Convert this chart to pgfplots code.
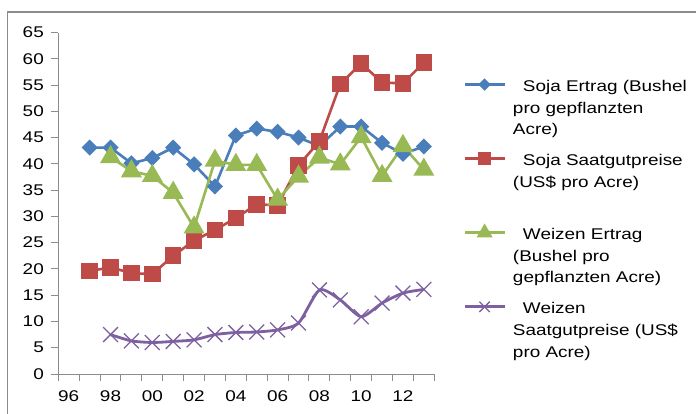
\documentclass[border=0pt]{standalone}
\usepackage{pgfplots}
\pgfplotsset{compat=1.18}
\usepackage{fontspec}
\setmainfont[FakeStretch=1.22]{Liberation Sans}
\definecolor{sojablue}{HTML}{4A7EBB}
\definecolor{sojared}{HTML}{BE4B48}
\definecolor{wgreen}{HTML}{98B954}
\definecolor{wpurple}{HTML}{7D60A0}
\definecolor{axisgray}{HTML}{8C8C8C}
\definecolor{framegray}{HTML}{8C8C8C}
\begin{document}
\begin{tikzpicture}
\useasboundingbox (0pt,0pt) rectangle (696pt,413pt);
\fill[white] (0pt,0pt) rectangle (696pt,413pt);
\draw[color=framegray, line width=1.5pt] (7.5pt,-5pt) -- (7.5pt,401pt) -- (705pt,401pt);
\begin{axis}[
  scale only axis, width=376pt, height=341.5pt,
  at={(58.3pt,39pt)}, anchor=south west,
  xmin=1995.5, xmax=2013.5, ymin=0, ymax=65,
  axis x line*=bottom, axis y line*=left,
  axis line style={draw=axisgray, line width=1pt, -},
  xtick={1995.5,1996.5,...,2013.5},
  xticklabels={96,,98,,00,,02,,04,,06,,08,,10,,12,,},
  xticklabel style={xshift=10.44pt, yshift=-6pt},
  yticklabel style={xshift=-4pt},
  ytick={0,5,...,65},
  tick align=outside,
  major tick length=7pt,
  tick style={draw=axisgray, line width=1pt},
  ticklabel style={font=\fontsize{15.5}{18}\selectfont},
  /pgf/number format/assume math mode=true,
  legend cell align=left,
  legend style={at={(1.0763,0.8785)}, anchor=north west, draw=none, fill=none,
    inner sep=0pt, row sep=10pt,
    font=\fontsize{15.5}{21.7}\selectfont,
    cells={align=left, inner sep=0pt},
    /tikz/every odd column/.append style={column sep=5pt}},
  legend image code/.code={\draw[mark repeat=2,mark phase=2,#1, every mark/.append style={scale=0.7}] plot coordinates {(0pt,21.7pt)(20pt,21.7pt)(40pt,21.7pt)};},
]
\addplot[color=sojablue, line width=2.6pt, mark=square*, mark size=4.4pt, mark options={rotate=45, solid}] coordinates {
(1997,43.1)(1998,43.1)(1999,40.1)(2000,41.1)(2001,43.1)(2002,39.9)(2003,35.7)(2004,45.4)(2005,46.7)(2006,46.1)(2007,45.0)(2008,43.4)(2009,47.1)(2010,47.1)(2011,44.0)(2012,41.9)(2013,43.3)};
\addlegendentry{\strut\hspace*{10pt}Soja Ertrag (Bushel\\pro gepflanzten\\Acre)\strut}
\addplot[color=sojared, line width=2.6pt, mark=square*, mark size=7pt, mark options={solid}] coordinates {
(1997,19.6)(1998,20.3)(1999,19.2)(2000,19.0)(2001,22.5)(2002,25.4)(2003,27.4)(2004,29.7)(2005,32.3)(2006,32.1)(2007,39.7)(2008,44.3)(2009,55.2)(2010,59.1)(2011,55.5)(2012,55.3)(2013,59.3)};
\addlegendentry{\strut\hspace*{10pt}Soja Saatgutpreise\\(US\$ pro Acre)\\\strut}
\addplot[color=wgreen, line width=2.6pt, mark=triangle*, mark size=9.5pt, mark options={solid}] coordinates {
(1998,41.3)(1999,38.6)(2000,37.7)(2001,34.5)(2002,27.9)(2003,40.6)(2004,39.8)(2005,39.8)(2006,33.2)(2007,37.6)(2008,41.2)(2009,39.9)(2010,45.1)(2011,37.7)(2012,43.4)(2013,38.9)};
\addlegendentry{\strut\hspace*{10pt}Weizen Ertrag\\(Bushel pro\\gepflanzten Acre)\strut}
\addplot[color=wpurple, line width=2.8pt, smooth, tension=0.4, mark=x, mark size=10.5pt, mark options={solid, line width=1.3pt}] coordinates {
(1998,7.5)(1999,6.3)(2000,6.0)(2001,6.2)(2002,6.5)(2003,7.5)(2004,7.9)(2005,8.0)(2006,8.4)(2007,9.7)(2008,16.0)(2009,14.1)(2010,10.9)(2011,13.5)(2012,15.4)(2013,16.1)};
\addlegendentry{\strut\hspace*{10pt}Weizen\\Saatgutpreise (US\$\\pro Acre)\strut}
\end{axis}
\end{tikzpicture}
\end{document}
